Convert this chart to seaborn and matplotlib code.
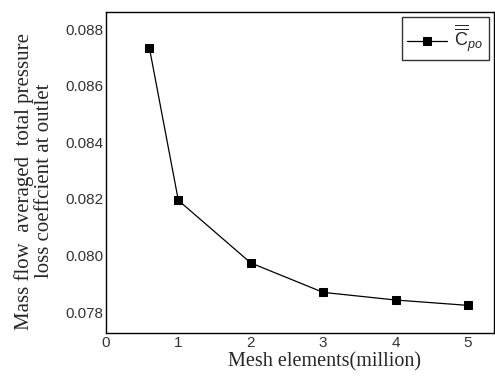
import matplotlib
matplotlib.use("Agg")
import matplotlib.pyplot as plt
import seaborn as sns
import pandas as pd

mesh_elements = [0.6, 1.0, 2.0, 3.0, 4.0, 5.0]
cpo_values = [0.08734, 0.08195, 0.07974, 0.0787, 0.07843, 0.07824]
x_ticks = [0, 1, 2, 3, 4, 5]
y_ticks = [0.078, 0.080, 0.082, 0.084, 0.086, 0.088]

sns.set_theme(style="white")
plt.rcParams['font.family'] = ['Liberation Serif', 'DejaVu Serif']
plt.rcParams['mathtext.fontset'] = 'custom'
plt.rcParams['mathtext.rm'] = 'Liberation Sans'
plt.rcParams['mathtext.it'] = 'Liberation Sans:italic'

df = pd.DataFrame({"mesh": mesh_elements, "cpo": cpo_values})

fig = plt.figure(figsize=(4.95, 3.76), dpi=100)
ax = fig.add_axes([0.214, 0.114, 0.784, 0.854])
sns.lineplot(data=df, x="mesh", y="cpo", ax=ax, color="black", linewidth=0.9,
             marker="s", markersize=6, markeredgecolor="black", markerfacecolor="black",
             label=r"$\overline{\overline{\mathrm{C}}}_{po}$")

ax.set_xlim(0, 5.36)
ax.set_ylim(0.07726, 0.0886)
ax.set_xticks(x_ticks)
ax.set_xticklabels([str(v) for v in x_ticks], family=['Liberation Sans'])
ax.set_yticks(y_ticks)
ax.set_yticklabels([f"{v:.3f}" for v in y_ticks], family=['Liberation Sans'])
ax.tick_params(axis='both', labelsize=11, length=0, pad=2, colors='#333333')
for s in ax.spines.values():
    s.set_color('black')
    s.set_linewidth(1.0)

ax.set_xlabel("")
ax.set_ylabel("")
fig.text(324 / 495, 1 - 362 / 376, "Mesh elements(million)", fontsize=14.5,
         ha='center', va='center')
fig.text(34 / 495, 1 - 181 / 376,
         "Mass flow  averaged  total pressure\nloss coeffcient at outlet",
         fontsize=15, rotation=90, ha='center', va='center',
         multialignment='center', linespacing=1.05)

leg = ax.legend(loc="upper right", frameon=True, fancybox=False, fontsize=13,
                handlelength=2.2, borderpad=0.3, handletextpad=0.4,
                borderaxespad=0.3)
leg.get_frame().set_edgecolor('black')
leg.get_frame().set_linewidth(1.0)

fig.savefig("out.png", dpi=100)
